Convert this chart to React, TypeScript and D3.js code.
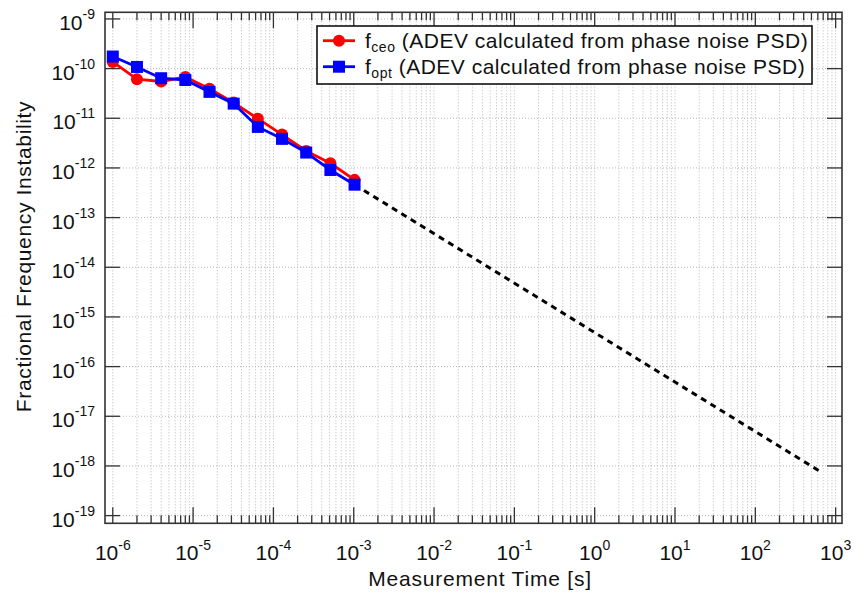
import * as d3 from 'd3';

// measurement times (s): 1 µs doubling up to ~1 ms
const tau = [1e-6, 2e-6, 4e-6, 8e-6, 1.6e-5, 3.2e-5, 6.4e-5, 1.28e-4, 2.56e-4, 5.12e-4, 1.024e-3];
const fceo = [1.36e-10, 6.1e-11, 5.5e-11, 6.8e-11, 3.95e-11, 2.07e-11, 9.8e-12, 4.7e-12, 2.2e-12, 1.24e-12, 5.75e-13];
const fopt = [1.75e-10, 1.08e-10, 6.4e-11, 5.9e-11, 3.4e-11, 1.97e-11, 6.7e-12, 3.85e-12, 2.04e-12, 9.1e-13, 4.6e-13];
// extrapolation (dashed)
const extrapTau = [1.024e-3, 680];
const extrapDev = [4.6e-13, 7.3e-19];

const xExps = [-6, -5, -4, -3, -2, -1, 0, 1, 2, 3];
const yExps = [-9, -10, -11, -12, -13, -14, -15, -16, -17, -18, -19];

const W = 854;
const H = 592;
const L = 105, R = 842, T = 12.3, B = 523.3;
const FONT = '"Liberation Sans", Arial, Helvetica, sans-serif';

export default function App() {
  const x = d3.scaleLog().domain([0.8e-6, 1.2e3]).range([L, R]);
  const y = d3.scaleLog().domain([1.36e-9, 0.7e-19]).range([T, B]);

  const majorX = xExps.map(e => Math.pow(10, e));
  const minorX: number[] = [];
  xExps.slice(0, -1).forEach(e => {
    for (let k = 2; k <= 9; k++) minorX.push(k * Math.pow(10, e));
  });
  const majorY = yExps.map(e => Math.pow(10, e));

  const line = d3.line<[number, number]>().x(d => x(d[0])).y(d => y(d[1]));
  const red = tau.map((t, i) => [t, fceo[i]] as [number, number]);
  const blue = tau.map((t, i) => [t, fopt[i]] as [number, number]);
  const dash = extrapTau.map((t, i) => [t, extrapDev[i]] as [number, number]);

  const frame = '#333';
  const grid = '#b8b8b8';
  const sq = 12;

  return (
    <svg width={W} height={H} style={{ position: 'absolute', left: 0, top: 0, background: '#fff' }} fontFamily={FONT}>
      {/* grid */}
      <g stroke={grid} strokeWidth={1} strokeDasharray="1,2">
        {[...majorX, ...minorX].map((v, i) => (
          <line key={'gx' + i} x1={x(v)} x2={x(v)} y1={T} y2={B} />
        ))}
        {majorY.map((v, i) => (
          <line key={'gy' + i} x1={L} x2={R} y1={y(v)} y2={y(v)} />
        ))}
      </g>

      {/* ticks */}
      <g stroke={frame} strokeWidth={1.3}>
        {majorX.map((v, i) => (
          <g key={'tx' + i}>
            <line x1={x(v)} x2={x(v)} y1={B} y2={B - 16} />
            <line x1={x(v)} x2={x(v)} y1={T} y2={T + 16} />
          </g>
        ))}
        {minorX.map((v, i) => (
          <g key={'mx' + i}>
            <line x1={x(v)} x2={x(v)} y1={B} y2={B - 8} />
            <line x1={x(v)} x2={x(v)} y1={T} y2={T + 8} />
          </g>
        ))}
        {majorY.map((v, i) => (
          <g key={'ty' + i}>
            <line x1={L} x2={L + 15} y1={y(v)} y2={y(v)} />
            <line x1={R} x2={R - 15} y1={y(v)} y2={y(v)} />
          </g>
        ))}
      </g>

      {/* series */}
      <path d={line(dash) ?? ''} fill="none" stroke="#000" strokeWidth={3} strokeDasharray="6,5" />
      <path d={line(red) ?? ''} fill="none" stroke="#ff0000" strokeWidth={2.8} />
      {red.map((d, i) => (
        <circle key={'r' + i} cx={x(d[0])} cy={y(d[1])} r={6} fill="#ff0000" />
      ))}
      <path d={line(blue) ?? ''} fill="none" stroke="#0000ff" strokeWidth={2.8} />
      {blue.map((d, i) => (
        <rect key={'b' + i} x={x(d[0]) - sq / 2} y={y(d[1]) - sq / 2} width={sq} height={sq} fill="#0000ff" />
      ))}

      {/* frame */}
      <rect x={L} y={T} width={R - L} height={B - T} fill="none" stroke={frame} strokeWidth={1.6} />

      {/* tick labels */}
      <g fontSize={21} fill="#111">
        {xExps.map((e, i) => (
          <text key={'lx' + i} x={x(Math.pow(10, e))} y={560} textAnchor="middle">
            10<tspan dy={-10} fontSize={14}>{e}</tspan>
          </text>
        ))}
        {yExps.map((e, i) => (
          <text key={'ly' + i} x={95} y={y(Math.pow(10, e)) + 11} textAnchor="end">
            10<tspan dy={-11} fontSize={14}>{e}</tspan>
          </text>
        ))}
      </g>

      {/* axis titles */}
      <text x={480} y={586} textAnchor="middle" fontSize={21} letterSpacing={0.8} fill="#111">
        Measurement Time [s]
      </text>
      <text
        transform={`translate(31,256.5) rotate(-90)`}
        textAnchor="middle"
        fontSize={21}
        letterSpacing={0.65}
        fill="#111"
      >
        Fractional Frequency Instability
      </text>

      {/* legend */}
      <g>
        <rect x={317} y={26} width={495} height={58} fill="#fff" stroke="#111" strokeWidth={1.6} />
        <line x1={323} x2={355} y1={40.7} y2={40.7} stroke="#ff0000" strokeWidth={2.8} />
        <circle cx={339} cy={40.7} r={6} fill="#ff0000" />
        <line x1={323} x2={355} y1={66.7} y2={66.7} stroke="#0000ff" strokeWidth={2.8} />
        <rect x={339 - sq / 2} y={66.7 - sq / 2} width={sq} height={sq} fill="#0000ff" />
        <text x={365} y={48} fontSize={21} letterSpacing={0.5} fill="#111">
          f<tspan dy={4} fontSize={14}>ceo</tspan>
          <tspan dy={-4}> (ADEV calculated from phase noise PSD)</tspan>
        </text>
        <text x={365} y={74} fontSize={21} letterSpacing={0.5} fill="#111">
          f<tspan dy={4} fontSize={14}>opt</tspan>
          <tspan dy={-4}> (ADEV calculated from phase noise PSD)</tspan>
        </text>
      </g>
    </svg>
  );
}
